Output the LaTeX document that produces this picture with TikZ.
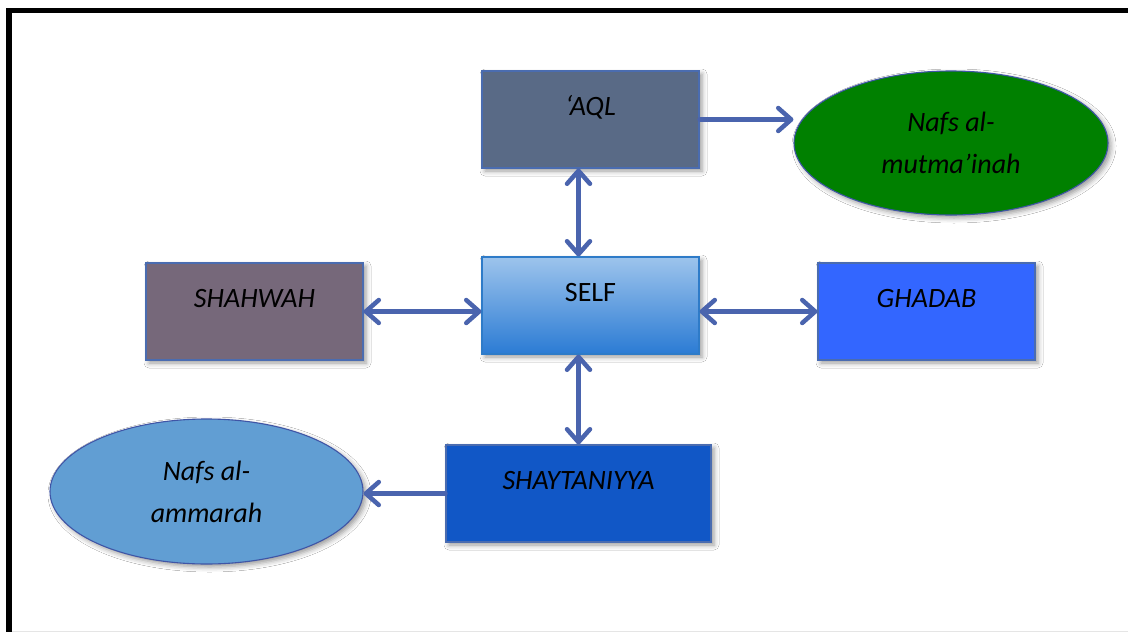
\documentclass[tikz,border=0pt]{standalone}
\usepackage{fontspec}
\setmainfont{Carlito}
\usetikzlibrary{arrows.meta,shapes.geometric,shadows.blur,calc}
\definecolor{boxedge}{HTML}{4A6CB0}
\definecolor{aqlfill}{HTML}{596A86}
\definecolor{shahfill}{HTML}{76687A}
\definecolor{ghadfill}{HTML}{3366FF}
\definecolor{shayfill}{HTML}{1157C6}
\definecolor{mutfill}{HTML}{008000}
\definecolor{ammfill}{HTML}{619ED3}
\definecolor{selftop}{HTML}{9DC4EC}
\definecolor{selfbot}{HTML}{2B7BD4}
\definecolor{selfedge}{HTML}{2E7BC8}
\definecolor{arrcol}{HTML}{4A64AE}
\definecolor{elledge}{HTML}{3F55A6}
\begin{document}
\begin{tikzpicture}[x=1pt,y=-1pt,
  softshadow/.style={blur shadow={shadow xshift=3pt,shadow yshift=-3pt,shadow blur radius=5pt,shadow opacity=40}},
  box/.style={rectangle,draw=boxedge,line width=1.1pt,minimum width=217pt,minimum height=97pt,
    inner sep=0pt,text width=217pt,align=center,text height=44pt,text depth=53pt,
    font=\fontsize{28}{34}\selectfont\itshape,softshadow},
  oval/.style={ellipse,draw=elledge,line width=1.1pt,inner sep=0pt,align=center,
    font=\fontsize{28}{42}\selectfont\itshape,softshadow},
  arrline/.style={draw=arrcol,line width=4.5pt,line cap=round},
  twoway/.style={arrline,{Straight Barb[length=13pt,width=23pt,line cap=round,line join=round]}-{Straight Barb[length=13pt,width=23pt,line cap=round,line join=round]}},
  oneway/.style={arrline,-{Straight Barb[length=13pt,width=23pt,line cap=round,line join=round]}}
]
\useasboundingbox (0,0) rectangle (1128,632);
\clip (0,0) rectangle (1128,632);
\fill[white] (0,0) rectangle (1128,632);
\draw[gray!20,line width=1pt] (12,631) -- (1140,631);
\draw[black,line width=5.5pt] (9,640) -- (9,10.5) -- (1140,10.5);

\node[box,fill=aqlfill] (aql) at (590.5,119.5) {‘AQL};
\node[box,top color=selftop,bottom color=selfbot,draw=selfedge,font=\fontsize{28}{34}\selectfont] (self) at (590.5,305.5) {SELF};
\node[box,fill=shahfill] (shahwah) at (254.5,311.5) {SHAHWAH};
\node[box,fill=ghadfill] (ghadab) at (926.5,311.5) {GHADAB};
\node[box,fill=shayfill,minimum width=265pt,text width=265pt] (shayt) at (578.5,493.5) {SHAYTANIYYA};
\node[oval,fill=mutfill,minimum width=314pt,minimum height=144pt] (mut) at (951,143) {Nafs al-\\mutma’inah};
\node[oval,fill=ammfill,minimum width=313pt,minimum height=145pt] (amm) at (206.5,491.5) {Nafs al-\\ammarah};

\draw[twoway] (shayt.north |- aql.south) -- (shayt.north |- self.north);
\draw[twoway] (shayt.north |- self.south) -- (shayt.north);
\draw[twoway] (shahwah.east) -- (shahwah.east -| self.west);
\draw[twoway] (ghadab.west -| self.east) -- (ghadab.west);
\draw[oneway] (aql.east) -- (aql.east -| mut.west);
\draw[oneway] (shayt.west) -- (shayt.west -| amm.east);
\end{tikzpicture}
\end{document}
